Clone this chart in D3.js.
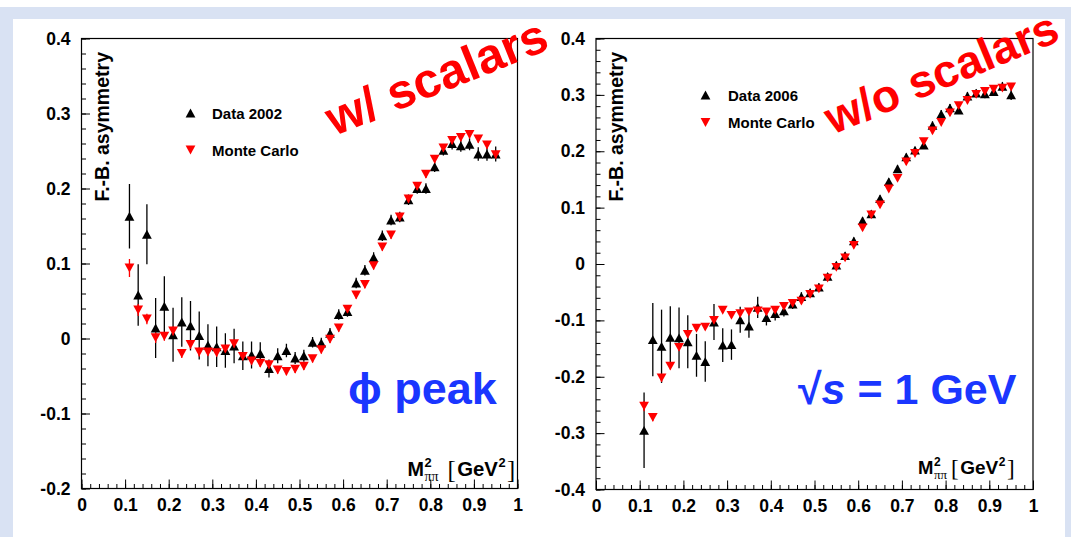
<!DOCTYPE html>
<html><head><meta charset="utf-8">
<script src="https://cdn.jsdelivr.net/npm/d3@7/dist/d3.min.js"></script>
<style>
html,body{margin:0;padding:0;background:#fff;}
svg{display:block;font-family:"Liberation Sans",Arial,Helvetica,sans-serif;}
</style>
</head><body>
<svg id="c" width="1071" height="537"></svg>
<script>
// ---------------- data ----------------
const massBins = [0.11,0.13,0.15,0.17,0.19,0.21,0.23,0.25,0.27,0.29,0.31,0.33,0.35,0.37,0.39,0.41,0.43,0.45,0.47,0.49,0.51,0.53,0.55,0.57,0.59,0.61,0.63,0.65,0.67,0.69,0.71,0.73,0.75,0.77,0.79,0.81,0.83,0.85,0.87,0.89,0.91,0.93,0.95];

const data2002    = [0.163,0.058,0.139,0.014,0.043,0.005,0.022,0.017,0.004,-0.009,-0.011,-0.016,-0.010,-0.023,-0.022,-0.020,-0.040,-0.023,-0.016,-0.026,-0.023,-0.005,-0.006,0.007,0.032,0.036,0.074,0.091,0.108,0.137,0.158,0.162,0.185,0.200,0.200,0.229,0.251,0.260,0.257,0.259,0.246,0.246,0.246];
const data2002Err = [0.043,0.041,0.040,0.040,0.040,0.036,0.033,0.033,0.032,0.028,0.027,0.023,0.023,0.019,0.018,0.015,0.012,0.010,0.009,0.008,0.008,0.007,0.007,0.007,0.007,0.007,0.007,0.007,0.007,0.007,0.007,0.007,0.007,0.007,0.007,0.007,0.007,0.008,0.008,0.008,0.009,0.009,0.010];
const mc2002      = [0.094,0.038,0.026,0.001,0.003,0.010,-0.020,-0.008,-0.018,-0.018,-0.019,-0.014,-0.007,-0.024,-0.030,-0.033,-0.035,-0.042,-0.044,-0.041,-0.037,-0.027,-0.015,-0.001,0.014,0.039,0.058,0.072,0.097,0.122,0.138,0.162,0.186,0.203,0.219,0.239,0.254,0.264,0.268,0.272,0.266,0.258,0.245];
const mc2002Err   = [0.012,0.008,0.007,0.007,0.006,0.006,0.006,0.006,0.006,0.005,0.005,0.005,0.005,0.005,0.005,0.005,0.005,0.005,0.005,0.005,0.005,0.005,0.005,0.005,0.005,0.005,0.005,0.005,0.005,0.005,0.005,0.005,0.005,0.005,0.005,0.005,0.005,0.005,0.005,0.005,0.005,0.005,0.005];

const data2006    = [-0.295,-0.134,-0.146,-0.130,-0.131,-0.138,-0.162,-0.173,-0.103,-0.144,-0.143,-0.099,-0.110,-0.077,-0.095,-0.088,-0.083,-0.071,-0.058,-0.051,-0.041,-0.022,-0.002,0.015,0.041,0.077,0.089,0.116,0.146,0.169,0.190,0.202,0.211,0.246,0.266,0.277,0.273,0.298,0.303,0.302,0.306,0.315,0.300];
const data2006Err = [0.067,0.065,0.065,0.055,0.054,0.047,0.038,0.036,0.032,0.030,0.027,0.023,0.021,0.019,0.014,0.012,0.010,0.009,0.008,0.007,0.007,0.006,0.006,0.006,0.006,0.006,0.006,0.006,0.006,0.006,0.006,0.006,0.006,0.007,0.007,0.007,0.007,0.007,0.007,0.008,0.008,0.008,0.009];
const mc2006      = [-0.252,-0.272,-0.202,-0.181,-0.148,-0.125,-0.114,-0.112,-0.100,-0.082,-0.091,-0.088,-0.085,-0.083,-0.085,-0.082,-0.075,-0.070,-0.066,-0.054,-0.044,-0.025,-0.006,0.011,0.033,0.064,0.087,0.105,0.133,0.152,0.181,0.196,0.217,0.236,0.251,0.268,0.281,0.290,0.301,0.306,0.310,0.312,0.314];
const mc2006Err   = [0.009,0.007,0.007,0.006,0.006,0.006,0.005,0.005,0.005,0.005,0.005,0.005,0.005,0.005,0.005,0.005,0.005,0.005,0.005,0.005,0.005,0.005,0.005,0.005,0.005,0.005,0.005,0.005,0.005,0.005,0.005,0.005,0.005,0.005,0.005,0.005,0.005,0.005,0.005,0.005,0.005,0.005,0.005];

const xTickValues = [0,0.1,0.2,0.3,0.4,0.5,0.6,0.7,0.8,0.9,1];
const xTickLabels = ["0","0.1","0.2","0.3","0.4","0.5","0.6","0.7","0.8","0.9","1"];
const yTickValuesL = [-0.2,-0.1,0,0.1,0.2,0.3,0.4];
const yTickLabelsL = ["-0.2","-0.1","0","0.1","0.2","0.3","0.4"];
const yTickValuesR = [-0.4,-0.3,-0.2,-0.1,0,0.1,0.2,0.3,0.4];
const yTickLabelsR = ["-0.4","-0.3","-0.2","-0.1","0","0.1","0.2","0.3","0.4"];

const yTitle = "F.-B. asymmetry";
const legendData = ["Data 2002","Data 2006"];
const legendMC = "Monte Carlo";
const stampL = "w/ scalars", stampR = "w/o scalars";

// ---------------- drawing ----------------
const svg = d3.select("#c");
svg.append("rect").attr("x",0).attr("y",0).attr("width",1071).attr("height",537).attr("fill","#fff");
svg.append("rect").attr("x",0).attr("y",7).attr("width",1071).attr("height",530).attr("fill","#d9e2f3");
svg.append("rect").attr("x",13).attr("y",19).attr("width",1052).attr("height",518).attr("fill","#fff");

const RED = "#ff0000", BLUE = "#1a36ff";
const SERIF = "'Liberation Serif','Times New Roman',serif";

function triPath(up){
  const w = 4.9, h = 4.4;
  return up ? `M0,${-h}L${w},${h}L${-w},${h}Z` : `M0,${h}L${w},${-h}L${-w},${-h}Z`;
}

function panel(cfg){
  const g = svg.append("g");
  const x = d3.scaleLinear().domain([0,1]).range([cfg.x0,cfg.x1]);
  const y = d3.scaleLinear().domain(cfg.yDom).range([cfg.y1,cfg.y0]);

  g.append("rect").attr("x",cfg.x0).attr("y",cfg.y0).attr("width",cfg.x1-cfg.x0).attr("height",cfg.y1-cfg.y0)
    .attr("fill","none").attr("stroke","#000").attr("stroke-width",1.2);

  const minorX = d3.range(0,1.0001,0.02);
  const minorY = d3.range(cfg.yDom[0],cfg.yDom[1]+0.0001,0.02);
  g.append("g").attr("transform",`translate(0,${cfg.y1})`)
    .call(d3.axisBottom(x).tickValues(minorX).tickSize(-4.5).tickFormat(""))
    .call(a=>a.select(".domain").remove());
  g.append("g").attr("transform",`translate(${cfg.x0},0)`)
    .call(d3.axisLeft(y).tickValues(minorY).tickSize(-4.5).tickFormat(""))
    .call(a=>a.select(".domain").remove());
  const ax = g.append("g").attr("transform",`translate(0,${cfg.y1})`)
    .call(d3.axisBottom(x).tickValues(xTickValues).tickSize(-9).tickPadding(10)
      .tickFormat((d,i)=>xTickLabels[i]));
  ax.select(".domain").remove();
  const ay = g.append("g").attr("transform",`translate(${cfg.x0},0)`)
    .call(d3.axisLeft(y).tickValues(cfg.yVals).tickSize(-8.5).tickPadding(11)
      .tickFormat((d,i)=>cfg.yLabels[i]));
  ay.select(".domain").remove();
  g.selectAll(".tick line").attr("stroke","#000").attr("stroke-width",1);
  g.selectAll(".tick text").attr("font-size",17.5).attr("font-weight","bold").attr("fill","#000")
    .attr("font-family","'Liberation Sans',Arial,sans-serif");

  g.append("text").attr("transform",`translate(${cfg.x0+27},${cfg.y0+13.5}) rotate(-90)`)
    .attr("text-anchor","end").attr("font-size",19.5).attr("font-weight","bold").text(yTitle);

  // x title  M^2_{pi pi} [GeV^2]
  const s = cfg.ts;
  const xt = g.append("g");
  let cx = cfg.xtX; const by = cfg.xtY;
  const tM = xt.append("text").attr("x",cx).attr("y",by).attr("font-size",18.5*s).attr("font-weight","bold").text("M");
  cx += tM.node().getComputedTextLength()+0.5;
  const t2 = xt.append("text").attr("x",cx).attr("y",by-8.5*s).attr("font-size",12*s).attr("font-weight","bold").text("2");
  const tpp = xt.append("text").attr("x",cx).attr("y",by+5*s).attr("font-size",13*s).attr("font-family",SERIF).text("ππ");
  cx += Math.max(t2.node().getComputedTextLength(), tpp.node().getComputedTextLength())+cfg.gap;
  const tb1 = xt.append("text").attr("x",cx).attr("y",by+1.5).attr("font-size",23*s).attr("font-family",SERIF).text("[");
  cx += tb1.node().getComputedTextLength()+1.5;
  const tG = xt.append("text").attr("x",cx).attr("y",by).attr("font-size",19*s).attr("font-weight","bold").text("GeV");
  cx += tG.node().getComputedTextLength()+0.5;
  const t22 = xt.append("text").attr("x",cx).attr("y",by-8.5*s).attr("font-size",12*s).attr("font-weight","bold").text("2");
  cx += t22.node().getComputedTextLength()+1.5;
  xt.append("text").attr("x",cx).attr("y",by+1.5).attr("font-size",23*s).attr("font-family",SERIF).text("]");

  const pts = massBins.map((m,i)=>({m, d:cfg.data[i], de:cfg.dataErr[i], mc:cfg.mc[i], me:cfg.mcErr[i]}));
  const pg = g.append("g");
  pg.selectAll("line.de").data(pts).join("line").attr("class","de")
    .attr("x1",d=>x(d.m)).attr("x2",d=>x(d.m)).attr("y1",d=>y(d.d-d.de)).attr("y2",d=>y(d.d+d.de))
    .attr("stroke","#000").attr("stroke-width",1.3);
  pg.selectAll("path.dm").data(pts).join("path").attr("class","dm")
    .attr("transform",d=>`translate(${x(d.m)},${y(d.d)})`).attr("d",triPath(true)).attr("fill","#000");
  pg.selectAll("line.me").data(pts).join("line").attr("class","me")
    .attr("x1",d=>x(d.m)).attr("x2",d=>x(d.m)).attr("y1",d=>y(d.mc-d.me)).attr("y2",d=>y(d.mc+d.me))
    .attr("stroke",RED).attr("stroke-width",1.3);
  pg.selectAll("path.mm").data(pts).join("path").attr("class","mm")
    .attr("transform",d=>`translate(${x(d.m)},${y(d.mc)})`).attr("d",triPath(false)).attr("fill",RED);

  const lg = g.append("g");
  lg.append("path").attr("transform",`translate(${cfg.lgX},${cfg.lgY1})`).attr("d",triPath(true)).attr("fill","#000");
  lg.append("path").attr("transform",`translate(${cfg.lgX},${cfg.lgY2})`).attr("d",triPath(false)).attr("fill",RED);
  lg.append("text").attr("x",cfg.lgTX).attr("y",cfg.lgY1+5.5).attr("font-size",15).attr("font-weight","bold").text(cfg.legendData);
  lg.append("text").attr("x",cfg.lgTX).attr("y",cfg.lgY2+5.5).attr("font-size",15).attr("font-weight","bold").text(legendMC);
  return {g,x,y};
}

panel({x0:81.5,x1:517.5,y0:38.5,y1:488.5,yDom:[-0.2,0.4],yVals:yTickValuesL,yLabels:yTickLabelsL,
  data:data2002,dataErr:data2002Err,mc:mc2002,mcErr:mc2002Err,legendData:legendData[0],
  lgX:190.5,lgY1:113,lgY2:150,lgTX:212,xtX:407.5,xtY:476,gap:9,ts:1.07});
panel({x0:596,x1:1033,y0:38.5,y1:489.5,yDom:[-0.4,0.4],yVals:yTickValuesR,yLabels:yTickLabelsR,
  data:data2006,dataErr:data2006Err,mc:mc2006,mcErr:mc2006Err,legendData:legendData[1],
  lgX:705.5,lgY1:95,lgY2:122.5,lgTX:728,xtX:918,xtY:474,gap:4,ts:1});

svg.append("text").attr("transform","translate(436,76) rotate(-22)").attr("text-anchor","middle").attr("dy","0.36em")
  .attr("font-size",49).attr("font-weight","bold").attr("fill",RED).text(stampL);
svg.append("text").attr("transform","translate(941,72) rotate(-22.5)").attr("text-anchor","middle").attr("dy","0.36em")
  .attr("font-size",46).attr("font-weight","bold").attr("fill",RED).text(stampR);

svg.append("text").attr("x",348).attr("y",404).attr("font-size",45).attr("font-weight","bold").attr("fill",BLUE).text("ϕ peak");
const sq = svg.append("text").attr("x",798).attr("y",404).attr("font-size",43).attr("font-weight","bold").attr("fill",BLUE);
sq.append("tspan").text("√");
sq.append("tspan").attr("font-style","italic").text("s");
sq.append("tspan").text(" = 1 GeV");
</script>
</body></html>
